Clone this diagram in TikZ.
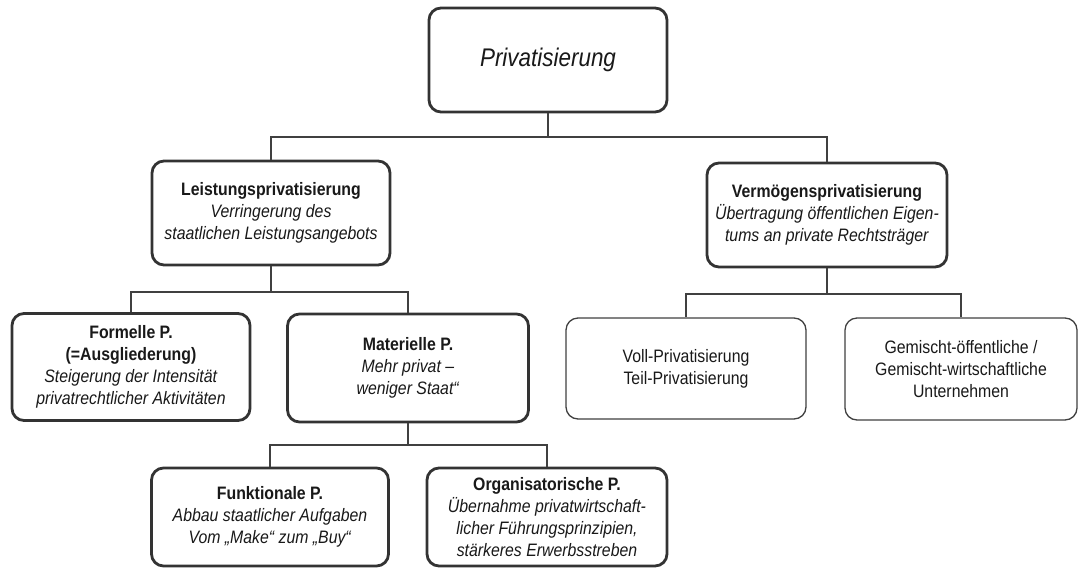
\documentclass[tikz,border=0pt]{standalone}
\usepackage{fontspec}
\setmainfont{Liberation Sans}[FakeStretch=0.88]
\usepackage{tikz}

\begin{document}
\begin{tikzpicture}[x=1pt, y=-1pt]
    % --- DEFINE STYLES ---
    % Style for boxes with a heavy frame
    \tikzstyle{heavybox} = [draw=black!80, line width=2.8pt, rounded corners=12pt, fill=white,
        minimum width=238pt, minimum height=104pt, align=center,
        inner sep=0pt, text=black!90, font=\fontsize{18}{22}\selectfont]
    % Style for boxes with a thin frame
    \tikzstyle{lightbox} = [heavybox, draw=black!75, line width=1.3pt]
    % Style for the connecting lines
    \tikzstyle{link} = [draw=black!75, line width=1.1pt]

    \useasboundingbox (0,0) rectangle (1078,568);

    % --- BOXES ---
    \node[heavybox, font=\fontsize{25.5}{30}\selectfont\itshape] (root) at (548,60) {Privatisierung};

    \node[heavybox] (leist) at (271,213) {\textbf{Leistungsprivatisierung}\\
        \textit{Verringerung des}\\ \textit{staatlichen Leistungsangebots}};
    \node[heavybox, minimum width=240pt] (verm) at (827,215) {\textbf{Vermögensprivatisierung}\\
        \textit{Übertragung öffentlichen Eigen-}\\ \textit{tums an private Rechtsträger}};

    \node[heavybox, minimum height=107pt] (form) at (131,367) {\textbf{Formelle P.}\\
        \textbf{(=Ausgliederung)}\\ \textit{Steigerung der Intensität}\\ \textit{privatrechtlicher Aktivitäten}};
    \node[heavybox, minimum width=241pt, minimum height=108pt] (mat) at (408,368) {\textbf{Materielle P.}\\
        \textit{Mehr privat –}\\ \textit{weniger Staat“}};

    \node[lightbox, minimum width=240pt, minimum height=101pt] (voll) at (686,368.5) {Voll-Privatisierung\\
        Teil-Privatisierung};
    \node[lightbox, minimum width=232pt, minimum height=102pt] (gem) at (961,369) {Gemischt-öffentliche /\\
        Gemischt-wirtschaftliche\\ Unternehmen};

    \node[heavybox, minimum width=237pt, minimum height=98pt] (funk) at (270,517) {\textbf{Funktionale P.}\\
        \textit{Abbau staatlicher Aufgaben}\\ \textit{Vom „Make“ zum „Buy“}};
    \node[heavybox, minimum width=240pt, minimum height=98pt] (orga) at (547,517) {\textbf{Organisatorische P.}\\
        \textit{Übernahme privatwirtschaft-}\\ \textit{licher Führungsprinzipien,}\\ \textit{stärkeres Erwerbsstreben}};

    % --- CONNECTORS ---
    \coordinate (b_root) at (548,137);
    \coordinate (b_leist) at (271,292);
    \coordinate (b_verm) at (827,294);
    \coordinate (b_mat) at (408,445);

    \draw[link] (root.south) -- (b_root);
    \foreach \c in {leist,verm} \draw[link] (b_root) -| (\c.north);

    \draw[link] (leist.south) -- (b_leist);
    \foreach \c in {form,mat} \draw[link] (b_leist) -| (\c.north);

    \draw[link] (verm.south) -- (b_verm);
    \foreach \c in {voll,gem} \draw[link] (b_verm) -| (\c.north);

    \draw[link] (mat.south) -- (b_mat);
    \foreach \c in {funk,orga} \draw[link] (b_mat) -| (\c.north);
\end{tikzpicture}
\end{document}
